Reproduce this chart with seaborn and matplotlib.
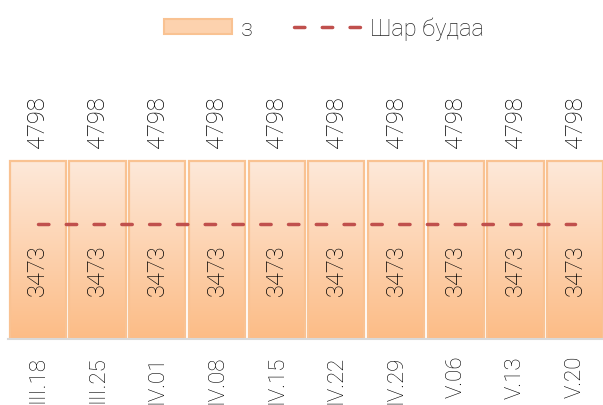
import numpy as np
import pandas as pd
import matplotlib
matplotlib.use("Agg")
import matplotlib.pyplot as plt
import seaborn as sns
from matplotlib.patches import Patch
from matplotlib.lines import Line2D
from matplotlib.colors import LinearSegmentedColormap

categories = ["III.18", "III.25", "IV.01", "IV.08", "IV.15",
              "IV.22", "IV.29", "V.06", "V.13", "V.20"]
values_bar = [4798, 4798, 4798, 4798, 4798, 4798, 4798, 4798, 4798, 4798]
values_line = [3473, 3473, 3473, 3473, 3473, 3473, 3473, 3473, 3473, 3473]
bar_name = "з"
line_name = "Шар будаа"

sns.set_style("white")
plt.rcParams['font.family'] = ['Roboto', 'DejaVu Sans']
FS = 17
TXT = "#000000"

df = pd.DataFrame({"cat": categories, "bar": values_bar, "line": values_line})

fig = plt.figure(figsize=(6.03, 4.06), dpi=100)
ax = fig.add_axes([8/603, 66/406, 597/603, 222.6/406])

sns.barplot(data=df, x="cat", y="bar", ax=ax, width=0.94,
            color="#FDCFA8", edgecolor="#F9C292", linewidth=1.6, zorder=2)

top_c = "#FEE9DA"
bot_c = "#FCBC86"
cmap = LinearSegmentedColormap.from_list("g", [bot_c, top_c])
grad = np.linspace(0, 1, 256).reshape(-1, 1)
for p in ax.patches:
    x0, y0, w, h = p.get_x(), p.get_y(), p.get_width(), p.get_height()
    im = ax.imshow(grad, extent=[x0, x0 + w, y0, y0 + h], origin="lower",
                   aspect="auto", cmap=cmap, zorder=1.9)
    im.set_clip_path(p)
    p.set_facecolor("none")

ax.set_xlim(-0.5, len(categories) - 0.5)
ax.set_ylim(0, 6000)
ax.set_aspect("auto")

for i, v in enumerate(values_bar):
    ax.annotate(f"{v}", (i, v), xytext=(0, 10), textcoords="offset points",
                rotation=90, ha="center", va="bottom", fontsize=FS,
                color=TXT, fontweight="light", annotation_clip=False)

ax2 = ax.twinx()
sns.lineplot(x=categories, y=values_line, ax=ax2, sort=False,
             color="#C0504D", linewidth=2.5, zorder=3)
ln = ax2.lines[0]
ln.set_linestyle((0, (3, 5)))
ln.set_dash_capstyle("round")
ax2.set_ylim(0, 6722)
ax2.set_xlim(-0.5, len(categories) - 0.5)
for i, v in enumerate(values_line):
    ax2.annotate(f"{v}", (i, v), xytext=(0, -14), textcoords="offset points",
                 rotation=90, ha="center", va="top", fontsize=FS,
                 color=TXT, fontweight="light", annotation_clip=False)
ax2.set_yticks([])
ax2.set_ylabel("")
for s in ax2.spines.values():
    s.set_visible(False)

ax.set_yticks([])
ax.set_ylabel("")
ax.set_xlabel("")
for s in ["left", "right", "top"]:
    ax.spines[s].set_visible(False)
ax.spines["bottom"].set_color("#D9D9D9")
ax.spines["bottom"].set_linewidth(1.5)
ax.set_xticks(range(len(categories)))
ax.set_xticklabels(categories, rotation=90, fontsize=16, color=TXT,
                   fontweight="light", va="top", ha="center")
ax.tick_params(axis="x", which="major", length=0, pad=11.5)
ax.set_xticks(np.arange(-0.5, len(categories), 1.0), minor=True)
ax.tick_params(axis="x", which="minor", length=5, width=1.5, color="#D9D9D9")

handles = [Patch(facecolor="#FDD2AE", edgecolor="#F9C292", linewidth=1.5),
           Line2D([0], [0], color="#C0504D", linewidth=2.5,
                  linestyle=(0, (3, 5)), dash_capstyle="round")]
fig.legend(handles, [bar_name, line_name], loc="center",
           bbox_to_anchor=(324/603, 1 - 29/406), ncol=2, frameon=False,
           handlelength=2.9, handleheight=0.63,
           handletextpad=0.35, columnspacing=1.75,
           prop={"weight": "light", "size": FS})

fig.savefig("out.png", dpi=100)
